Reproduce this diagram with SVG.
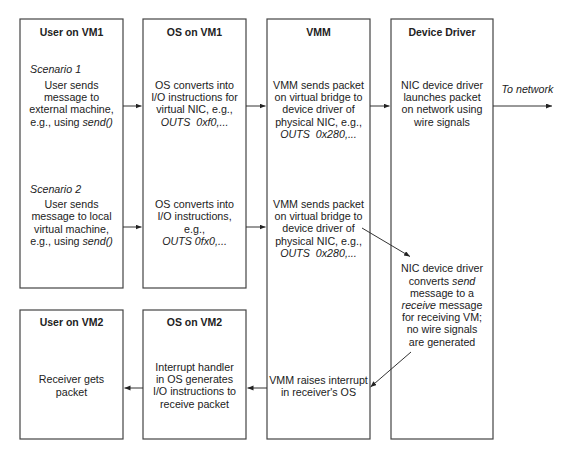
<svg xmlns="http://www.w3.org/2000/svg" width="568" height="450" viewBox="0 0 568 450">
<style>
  .box { fill: #fff; stroke: #444; stroke-width: 1.2; }
  .t { font-family: "Liberation Sans", Arial, sans-serif; font-size: 10.7px; fill: #222; text-anchor: middle; }
  .h { font-family: "Liberation Sans", Arial, sans-serif; font-size: 10.5px; font-weight: bold; fill: #222; text-anchor: middle; }
  .i { font-style: italic; }
  .s { font-family: "Liberation Sans", Arial, sans-serif; font-size: 10.7px; fill: #222; font-style: italic; }
  .c { stroke: #333; stroke-width: 1; fill: none; marker-end: url(#ah); }
</style>
<defs>
  <marker id="ah" markerUnits="userSpaceOnUse" markerWidth="7" markerHeight="6" refX="6" refY="2.5" orient="auto">
    <path d="M0,0 L6,2.5 L0,5 z" fill="#222"/>
  </marker>
</defs>
<rect width="568" height="450" fill="#fff"/>

<g id="user-vm1">
  <rect class="box" x="20" y="19" width="103" height="269"/>
  <text class="h" x="71.5" y="36">User on VM1</text>
  <text class="s" x="30" y="73">Scenario 1</text>
  <text class="t" x="71.5" y="89">User sends</text>
  <text class="t" x="71.5" y="101.2">message to</text>
  <text class="t" x="71.5" y="113.4">external machine,</text>
  <text class="t" x="71.5" y="125.6">e.g., using <tspan class="i">send()</tspan></text>
  <text class="s" x="30" y="193">Scenario 2</text>
  <text class="t" x="71.5" y="208">User sends</text>
  <text class="t" x="71.5" y="220.4">message to local</text>
  <text class="t" x="71.5" y="232.8">virtual machine,</text>
  <text class="t" x="71.5" y="245.2">e.g., using <tspan class="i">send()</tspan></text>
</g>

<g id="os-vm1">
  <rect class="box" x="143" y="19" width="103" height="269"/>
  <text class="h" x="194.5" y="36">OS on VM1</text>
  <text class="t" x="194.5" y="89">OS converts into</text>
  <text class="t" x="194.5" y="101.2">I/O instructions for</text>
  <text class="t" x="194.5" y="113.4">virtual NIC, e.g.,</text>
  <text class="t i" x="194.5" y="125.6" xml:space="preserve">OUTS  0xf0,...</text>
  <text class="t" x="194.5" y="208">OS converts into</text>
  <text class="t" x="194.5" y="220.4">I/O instructions,</text>
  <text class="t" x="194.5" y="232.8">e.g.,</text>
  <text class="t i" x="194.5" y="245.2">OUTS 0fx0,...</text>
</g>

<g id="vmm">
  <rect class="box" x="267" y="19" width="103" height="420"/>
  <text class="h" x="318.5" y="36">VMM</text>
  <text class="t" x="318.5" y="89">VMM sends packet</text>
  <text class="t" x="318.5" y="101.2">on virtual bridge to</text>
  <text class="t" x="318.5" y="113.4">device driver of</text>
  <text class="t" x="318.5" y="125.6">physical NIC, e.g.,</text>
  <text class="t i" x="318.5" y="137.8" xml:space="preserve">OUTS  0x280,...</text>
  <text class="t" x="318.5" y="208">VMM sends packet</text>
  <text class="t" x="318.5" y="220.2">on virtual bridge to</text>
  <text class="t" x="318.5" y="232.4">device driver of</text>
  <text class="t" x="318.5" y="244.6">physical NIC, e.g.,</text>
  <text class="t i" x="318.5" y="256.8" xml:space="preserve">OUTS  0x280,...</text>
  <text class="t" x="318.5" y="384">VMM raises interrupt</text>
  <text class="t" x="318.5" y="396.3">in receiver's OS</text>
</g>

<g id="device-driver">
  <rect class="box" x="391" y="19" width="102" height="420"/>
  <text class="h" x="442" y="36">Device Driver</text>
  <text class="t" x="442" y="89">NIC device driver</text>
  <text class="t" x="442" y="101.2">launches packet</text>
  <text class="t" x="442" y="113.4">on network using</text>
  <text class="t" x="442" y="125.6">wire signals</text>
  <text class="t" x="442" y="272.3">NIC device driver</text>
  <text class="t" x="442" y="284.5">converts <tspan class="i">send</tspan></text>
  <text class="t" x="442" y="296.7">message to a</text>
  <text class="t" x="442" y="308.9"><tspan class="i">receive</tspan> message</text>
  <text class="t" x="442" y="321.1">for receiving VM;</text>
  <text class="t" x="442" y="333.3">no wire signals</text>
  <text class="t" x="442" y="345.5">are generated</text>
</g>

<g id="user-vm2">
  <rect class="box" x="20" y="310" width="103" height="129"/>
  <text class="h" x="71.5" y="325.5">User on VM2</text>
  <text class="t" x="71.5" y="383.3">Receiver gets</text>
  <text class="t" x="71.5" y="395.6">packet</text>
</g>

<g id="os-vm2">
  <rect class="box" x="143" y="310" width="103" height="129"/>
  <text class="h" x="194.5" y="325.5">OS on VM2</text>
  <text class="t" x="194.5" y="370.6">Interrupt handler</text>
  <text class="t" x="194.5" y="383">in OS generates</text>
  <text class="t" x="194.5" y="395.4">I/O instructions to</text>
  <text class="t" x="194.5" y="407.8">receive packet</text>
</g>

<g id="network-label">
  <text class="s" x="501.5" y="92.5">To network</text>
</g>

<g id="connectors">
  <line class="c" x1="123" y1="106" x2="141.5" y2="106"/>
  <line class="c" x1="246" y1="106" x2="265.5" y2="106"/>
  <line class="c" x1="370" y1="106" x2="389.5" y2="106"/>
  <line class="c" x1="493" y1="106" x2="552" y2="106"/>
  <line class="c" x1="123" y1="227" x2="141.5" y2="227"/>
  <line class="c" x1="246" y1="227" x2="265.5" y2="227"/>
  <line class="c" x1="362" y1="228" x2="410" y2="256.5"/>
  <line class="c" x1="411" y1="352" x2="370.5" y2="387"/>
  <line class="c" x1="267" y1="388" x2="247.5" y2="388"/>
  <line class="c" x1="143" y1="388" x2="124.5" y2="388"/>
</g>
</svg>
